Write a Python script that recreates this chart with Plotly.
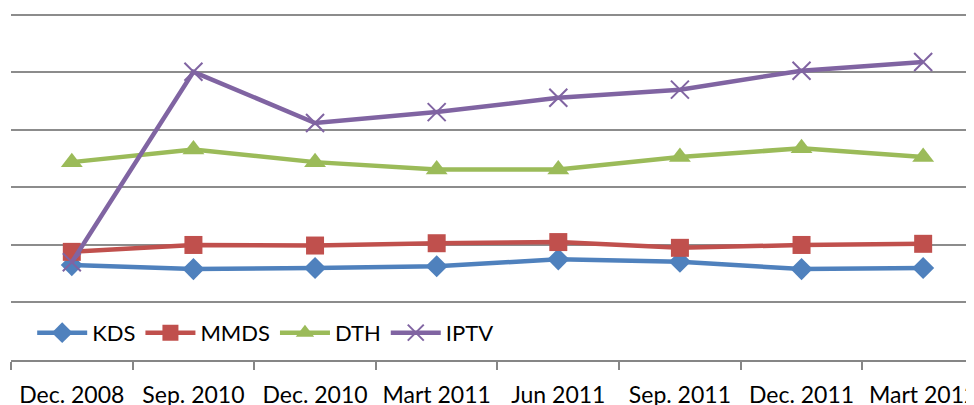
import plotly.graph_objects as go

categories = ["Dec. 2008", "Sep. 2010", "Dec. 2010", "Mart 2011", "Jun 2011", "Sep. 2011", "Dec. 2011", "Mart 2012"]
kds = [1.65, 1.58, 1.60, 1.63, 1.75, 1.71, 1.58, 1.60]
mmds = [1.88, 2.00, 1.99, 2.03, 2.05, 1.95, 2.00, 2.02]
dth = [3.44, 3.66, 3.44, 3.31, 3.31, 3.53, 3.68, 3.53]
iptv = [1.70, 5.01, 4.12, 4.31, 4.56, 4.70, 5.03, 5.18]

series = [
    ("KDS", kds, "#4F81BD", "diamond", 17),
    ("MMDS", mmds, "#C0504D", "square", 18),
    ("DTH", dth, "#9BBB59", "triangle-up", 19),
    ("IPTV", iptv, "#8064A2", "x-thin", 18),
]

fig = go.Figure()
for name, vals, color, sym, size in series:
    marker = dict(symbol=sym, size=size, color=color)
    if sym == "x-thin":
        marker["line"] = dict(color=color, width=2)
    fig.add_trace(go.Scatter(
        x=categories, y=vals, name=name, mode="lines+markers",
        line=dict(color=color, width=4.5), marker=marker,
    ))

fig.update_layout(
    width=966, height=397,
    margin=dict(l=3, r=0, t=4, b=45),
    paper_bgcolor="white", plot_bgcolor="white",
    font=dict(family="Lato, 'Open Sans', sans-serif", size=23, color="#000000"),
    showlegend=True,
    legend=dict(orientation="h", x=0.022, xanchor="left", y=0.078, yanchor="middle",
                font=dict(size=22), itemwidth=50, bgcolor="rgba(0,0,0,0)",
                traceorder="normal"),
)
fig.update_xaxes(
    type="category", range=[-0.5, 7.418], showgrid=False,
    showline=True, linecolor="#868686", linewidth=1.5,
    ticks="outside", tickson="boundaries", ticklen=8, tickcolor="#868686", tickwidth=1.5,
    ticklabelstandoff=14,
    automargin=False,
)
fig.update_yaxes(
    range=[0, 6.05], tickvals=[1, 2, 3, 4, 5, 6], showgrid=True, gridcolor="#8C8C8C", gridwidth=1.5,
    showticklabels=False, zeroline=False, showline=False, automargin=False,
)

fig.write_html("out.html")
